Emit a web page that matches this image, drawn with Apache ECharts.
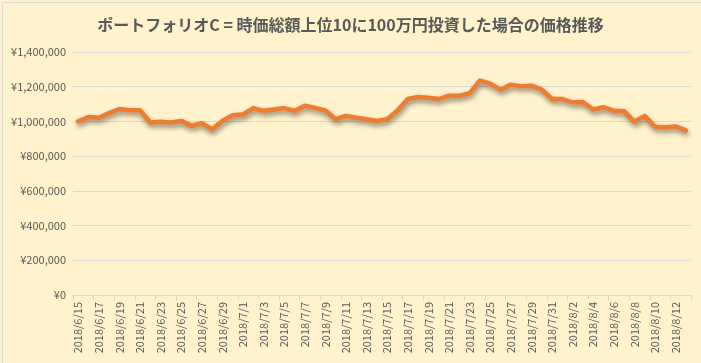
<!DOCTYPE html>
<html><head><meta charset="utf-8">
<script src="https://cdn.jsdelivr.net/npm/echarts@6/dist/echarts.min.js"></script>
<style>html,body{margin:0;padding:0;background:#FFF2CC;}#c{width:701px;height:363px;}</style>
</head><body><div id="c"></div>
<script>
var startDate = [2018, 6, 15];
var dayCount = 60;
var values = [1000000,1025000,1021000,1048000,1071000,1065000,1065000,994000,998000,994000,
1003000,975000,990000,955000,1003000,1036000,1040000,1077000,1061000,1069000,
1077000,1060000,1090000,1078000,1063000,1013000,1032000,1021000,1013000,1003000,
1013000,1061000,1129000,1141000,1137000,1129000,1148000,1148000,1162000,1235000,
1218000,1183000,1212000,1202000,1206000,1183000,1129000,1129000,1110000,1112000,
1069000,1082000,1061000,1059000,998000,1032000,969000,967000,971000,948000];
var yTicks = {min:0, max:1400000, interval:200000};
var titleText = 'ポートフォリオC = 時価総額上位10に100万円投資した場合の価格推移';

var categories = [];
(function(){
  var d = new Date(startDate[0], startDate[1]-1, startDate[2]);
  for (var i=0;i<dayCount;i++){
    categories.push(d.getFullYear()+'/'+(d.getMonth()+1)+'/'+d.getDate());
    d.setDate(d.getDate()+1);
  }
})();

var font = '"Noto Sans CJK JP","Noto Sans",sans-serif';
var chart = echarts.init(document.getElementById('c'), null, {renderer:'canvas'});
chart.setOption({
  backgroundColor:'#FFF2CC',
  animation:false,
  graphic:[{type:'rect',left:0,top:0,shape:{width:700,height:362},style:{fill:'none',stroke:'#D9D9D9',lineWidth:1},silent:true}],
  title:{text:titleText,left:'center',top:12,textStyle:{fontFamily:font,fontSize:16,fontWeight:'bold',color:'#595959'}},
  grid:{left:73,right:10,top:52,bottom:68,containLabel:false},
  xAxis:{type:'category',data:categories,boundaryGap:true,
    axisLine:{lineStyle:{color:'#D9D9D9'}},
    axisTick:{show:true,interval:1,length:5,lineStyle:{color:'#D9D9D9'}},
    axisLabel:{interval:1,rotate:90,color:'#595959',fontFamily:font,fontSize:11,margin:7}},
  yAxis:{type:'value',min:yTicks.min,max:yTicks.max,interval:yTicks.interval,
    axisLine:{show:false},axisTick:{show:false},
    splitLine:{lineStyle:{color:'#D9D9D9'}},
    axisLabel:{color:'#595959',fontFamily:font,fontSize:11,margin:7,
      formatter:function(v){return '¥'+v.toLocaleString('en-US');}}},
  series:[{type:'line',data:values,symbol:'none',smooth:false,
    lineStyle:{color:'#ED7D31',width:4.5,shadowColor:'rgba(0,0,0,0.45)',shadowBlur:5,shadowOffsetX:1,shadowOffsetY:3,cap:'round',join:'round'}}]
});
</script></body></html>
